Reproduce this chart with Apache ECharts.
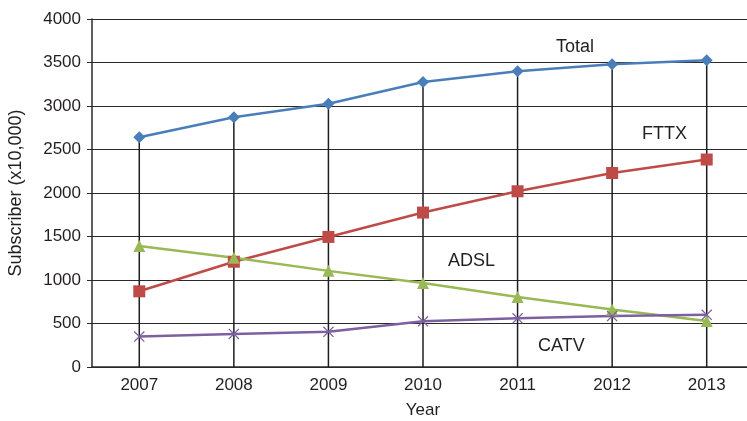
<!DOCTYPE html>
<html>
<head>
<meta charset="utf-8">
<script src="https://cdn.jsdelivr.net/npm/echarts@6/dist/echarts.min.js"></script>
<style>
  html, body { margin: 0; padding: 0; background: #fff; }
  #chart { width: 747px; height: 421px; }
</style>
</head>
<body>
<div id="chart"></div>
<script>
// data
const years = ['2007', '2008', '2009', '2010', '2011', '2012', '2013'];
const total = [2640, 2870, 3025, 3275, 3400, 3480, 3525];
const fttx = [870, 1210, 1495, 1775, 2020, 2230, 2385];
const adsl = [1390, 1255, 1105, 965, 805, 660, 530];
const catv = [350, 380, 405, 525, 560, 585, 600];
const yTicks = [0, 500, 1000, 1500, 2000, 2500, 3000, 3500, 4000];

const font = 'Liberation Sans, Arial, sans-serif';
const textColor = '#231f20';
// thin "x" marker
const crossPath = 'path://M0,0.8L0.8,0L5,4.2L9.2,0L10,0.8L5.8,5L10,9.2L9.2,10L5,5.8L0.8,10L0,9.2L4.2,5Z';

let chart = echarts.init(document.getElementById('chart'), null, {renderer: 'canvas'});

let lineSeries = (name, data, color, symbol, size) => ({
    name: name,
    type: 'line',
    data: data,
    symbol: symbol,
    symbolSize: size,
    z: 3,
    lineStyle: {color: color, width: 2.5},
    itemStyle: {color: color},
    animation: false
});

let seriesLabel = (text, x, y) => ({
    type: 'text',
    x: x,
    y: y,
    style: {text: text, font: '18px ' + font, fill: textColor, verticalAlign: 'middle'}
});

let option = {
    animation: false,
    // plot runs a little past the right edge of the picture
    grid: {left: 92, top: 19, width: 662, height: 348, containLabel: false, outerBoundsMode: 'none'},
    xAxis: {
        type: 'category',
        data: years,
        boundaryGap: true,
        name: 'Year',
        nameLocation: 'middle',
        nameGap: 35,
        nameTextStyle: {fontFamily: font, fontSize: 17, color: textColor},
        axisLine: {lineStyle: {color: '#2a2a2a', width: 1.5}},
        axisTick: {show: false},
        axisLabel: {fontFamily: font, fontSize: 17, color: textColor, margin: 10},
        splitLine: {show: false}
    },
    yAxis: {
        type: 'value',
        min: yTicks[0],
        max: yTicks[yTicks.length - 1],
        interval: 500,
        name: 'Subscriber (x10,000)',
        nameLocation: 'middle',
        nameGap: 67,
        nameTextStyle: {fontFamily: font, fontSize: 18, color: textColor},
        axisLine: {show: true, lineStyle: {color: '#2a2a2a', width: 1.5}},
        axisTick: {show: true, length: 5, lineStyle: {color: '#2a2a2a'}},
        axisLabel: {
            fontFamily: font, fontSize: 17, color: textColor, margin: 11,
            formatter: v => String(v)
        },
        splitLine: {show: true, lineStyle: {color: '#2a2a2a', width: 1}}
    },
    series: [
        {
            // drop lines from Total down to the axis
            name: 'drop',
            type: 'bar',
            data: total,
            barWidth: 1.5,
            z: 1,
            itemStyle: {color: '#1e1e1e'},
            silent: true
        },
        lineSeries('Total', total, '#4a7ebb', 'diamond', 12),
        lineSeries('FTTX', fttx, '#be4b48', 'rect', 12),
        lineSeries('ADSL', adsl, '#98b954', 'triangle', 12),
        lineSeries('CATV', catv, '#7d60a0', crossPath, 11)
    ],
    graphic: [
        seriesLabel('Total', 556, 47),
        seriesLabel('FTTX', 642, 134),
        seriesLabel('ADSL', 448, 261),
        seriesLabel('CATV', 538, 346)
    ]
};
chart.setOption(option);
</script>
</body>
</html>
